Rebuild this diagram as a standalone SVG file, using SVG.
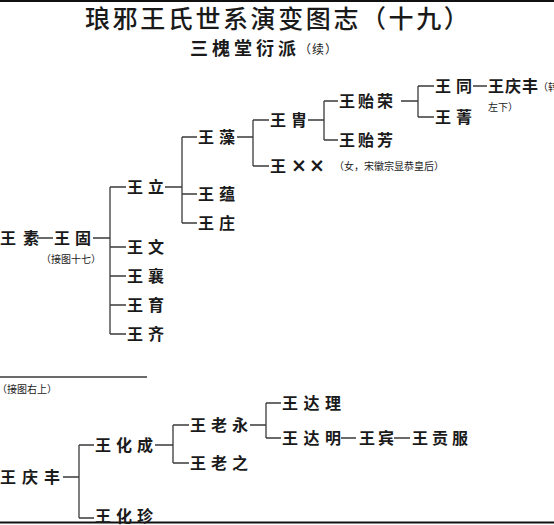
<svg xmlns="http://www.w3.org/2000/svg" width="554" height="525" viewBox="0 0 554 525">
<style>
.t{font-family:"Noto Sans CJK SC","Noto Sans CJK JP",sans-serif;fill:#1a1a1a}
.n{font-family:"Noto Sans CJK SC","Noto Sans CJK JP",serif;font-weight:700;font-size:16px;fill:#1a1a1a}
.s{font-family:"Noto Sans CJK SC","Noto Sans CJK JP",serif;font-weight:400;font-size:10px;fill:#1a1a1a}
.c{stroke:#3a3a3a;stroke-width:1.3;fill:none}
.b{stroke:#111;stroke-width:2;fill:none}
</style>
<line class="b" x1="0" y1="1" x2="554" y2="1"/>
<line class="b" x1="0" y1="522.5" x2="554" y2="522.5"/>
<g id="title">
<text class="t" x="85" y="28" font-size="25" font-weight="500" letter-spacing="2.6">琅邪王氏世系演变图志（十九）</text>
<text class="t" x="190" y="55" font-size="18" font-weight="700" letter-spacing="4">三槐堂衍派</text>
<text class="t" x="299" y="54" font-size="12" font-weight="400" letter-spacing="1">（续）</text>
</g>
<g id="connectors">
<path class="c" d="M37 238H53M93 238H110M110 187V334M110 187H126M110 247H126M110 276H126M110 305H126M110 334H126"/>
<path class="c" d="M165 187H182M182 137V223M182 137H197M182 194H197M182 223H197"/>
<path class="c" d="M237 137H253M253 120V166M253 120H269M253 166H269"/>
<path class="c" d="M308 120H324M324 101V140M324 101H338M324 140H338"/>
<path class="c" d="M401 101H418M418 86V117M418 86H434M418 117H434M473 86H487"/>
<line class="c" x1="0" y1="377" x2="147" y2="377" stroke-width="1"/>
<path class="c" d="M63 477H79M79 445V518M79 445H94M79 518H94"/>
<path class="c" d="M155 445H173M173 425V463M173 425H189M173 463H189"/>
<path class="c" d="M250 425H266M266 403V438M266 403H281M266 438H281"/>
<path class="c" d="M341 438H356M394 438H410"/>
</g>
<g id="wangsu"><text class="n" x="0" y="244" style="letter-spacing:7px">王素</text></g>
<g id="wanggu"><text class="n" x="54" y="244" style="letter-spacing:5px">王固</text><text class="s" x="41" y="263">（接图十七）</text></g>
<g id="wangli"><text class="n" x="127" y="193" style="letter-spacing:5px">王立</text></g>
<g id="wangwen"><text class="n" x="127" y="253" style="letter-spacing:5px">王文</text></g>
<g id="wangxiang"><text class="n" x="127" y="282" style="letter-spacing:5px">王襄</text></g>
<g id="wangyu"><text class="n" x="127" y="311" style="letter-spacing:5px">王育</text></g>
<g id="wangqi"><text class="n" x="127" y="340" style="letter-spacing:5px">王齐</text></g>
<g id="wangzao"><text class="n" x="198" y="143" style="letter-spacing:5px">王藻</text></g>
<g id="wangyun"><text class="n" x="198" y="200" style="letter-spacing:5px">王蕴</text></g>
<g id="wangzhuang"><text class="n" x="198" y="229" style="letter-spacing:5px">王庄</text></g>
<g id="wangzhou"><text class="n" x="270" y="126" style="letter-spacing:5px">王胄</text></g>
<g id="wangxx"><text class="n" x="270" y="172"><tspan>王</tspan><tspan x="291" font-size="19" font-family="'DejaVu Sans',sans-serif">×</tspan><tspan x="309" font-size="19" font-family="'DejaVu Sans',sans-serif">×</tspan></text><text class="s" x="334" y="170">（女，宋徽宗显恭皇后）</text></g>
<g id="wangyirong"><text class="n" x="339" y="107" style="letter-spacing:3px">王贻荣</text></g>
<g id="wangyifang"><text class="n" x="339" y="146" style="letter-spacing:3px">王贻芳</text></g>
<g id="wangtong"><text class="n" x="435" y="92" style="letter-spacing:5px">王同</text></g>
<g id="wangjing"><text class="n" x="435" y="123" style="letter-spacing:5px">王菁</text></g>
<g id="wangqingfeng1"><text class="n" x="488" y="92" style="letter-spacing:1px">王庆丰</text><text class="s" x="538" y="91" font-size="9">（转</text><text class="s" x="488" y="111">左下）</text></g>
<g id="note"><text class="s" x="-3" y="393">（接图右上）</text></g>
<g id="wangqingfeng2"><text class="n" x="0" y="483" style="letter-spacing:6px">王庆丰</text></g>
<g id="wanghuacheng"><text class="n" x="95" y="451" style="letter-spacing:5px">王化成</text></g>
<g id="wanghuazhen"><text class="n" x="95" y="522" style="letter-spacing:5px">王化珍</text></g>
<g id="wanglaoyong"><text class="n" x="190" y="431" style="letter-spacing:5px">王老永</text></g>
<g id="wanglaozhi"><text class="n" x="190" y="469" style="letter-spacing:5px">王老之</text></g>
<g id="wangdali"><text class="n" x="282" y="409" style="letter-spacing:5.5px">王达理</text></g>
<g id="wangdaming"><text class="n" x="282" y="444" style="letter-spacing:5.5px">王达明</text></g>
<g id="wangbin"><text class="n" x="359" y="444" style="letter-spacing:3px">王宾</text></g>
<g id="wanggongfu"><text class="n" x="412" y="444" style="letter-spacing:4px">王贡服</text></g>
</svg>
